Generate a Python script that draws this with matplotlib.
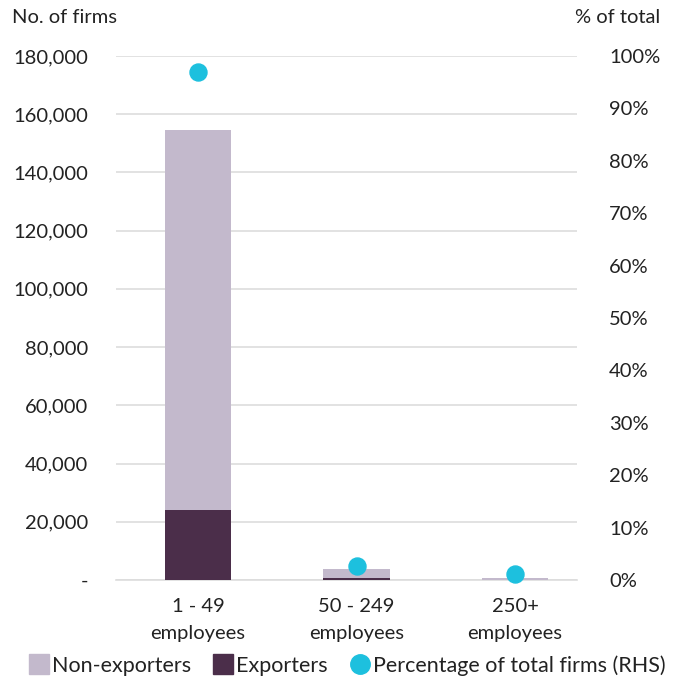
import matplotlib.pyplot as plt
from matplotlib.lines import Line2D
from matplotlib.ticker import FuncFormatter

plt.rcParams["font.family"] = ["Lato", "DejaVu Sans"]
plt.rcParams["font.size"] = 14.5
plt.rcParams["text.color"] = "#222222"

categories = ["1 - 49\nemployees", "50 - 249\nemployees", "250+\nemployees"]
non_exporters = [130600, 3000, 600]
exporters = [24000, 800, 150]
pct_total = [96.9, 2.7, 1.1]

c_non = "#c3b9cc"
c_exp = "#4b2e4a"
c_pct = "#1dc0de"

fig = plt.figure(figsize=(6.74, 6.82), dpi=100)
ax = fig.add_axes([0.172, 0.1496, 0.684, 0.7683])
x = range(len(categories))

ax.bar(x, exporters, width=0.42, color=c_exp, zorder=3)
ax.bar(x, non_exporters, width=0.42, bottom=exporters, color=c_non, zorder=3)
ax.set_ylim(0, 180000)
ax.set_xlim(-0.517, 2.39)
ax.set_yticks(range(0, 180001, 20000))
ax.yaxis.set_major_formatter(FuncFormatter(lambda v, p: "-" if v == 0 else f"{int(v):,}"))
ax.grid(axis="y", color="#dddddd", linewidth=1.2, zorder=0)
for s in ["top", "right", "left"]:
    ax.spines[s].set_visible(False)
ax.spines["bottom"].set_color("#dddddd")
ax.spines["bottom"].set_linewidth(1.2)
ax.tick_params(axis="both", length=0, colors="#222222")
ax.tick_params(axis="y", pad=20)
ax.tick_params(axis="x", pad=13)
ax.set_xticks(list(x))
ax.set_xticklabels(categories, linespacing=1.7)

ax2 = ax.twinx()
ax2.scatter(x, pct_total, s=150, color=c_pct, zorder=4, clip_on=False)
ax2.set_ylim(0, 100)
ax2.set_yticks(range(0, 101, 10))
ax2.set_yticklabels([f"{v}%" for v in range(0, 101, 10)])
for s in ["top", "right", "left", "bottom"]:
    ax2.spines[s].set_visible(False)
ax2.tick_params(axis="y", length=0, pad=23, colors="#222222")

fig.text(0.018, 0.975, "No. of firms", ha="left", va="center")
fig.text(0.98, 0.975, "% of total", ha="right", va="center")

handles = [
    Line2D([], [], marker="s", linestyle="none", color=c_non, markersize=14),
    Line2D([], [], marker="s", linestyle="none", color=c_exp, markersize=14),
    Line2D([], [], marker="o", linestyle="none", color=c_pct, markersize=14),
]
fig.legend(handles, ["Non-exporters", "Exporters", "Percentage of total firms (RHS)"],
           loc="center", bbox_to_anchor=(0.515, 0.024), ncol=3, frameon=False,
           fontsize=15.5, handletextpad=0.1, columnspacing=1.0, handlelength=1.0)

fig.savefig("out.png", dpi=100)
